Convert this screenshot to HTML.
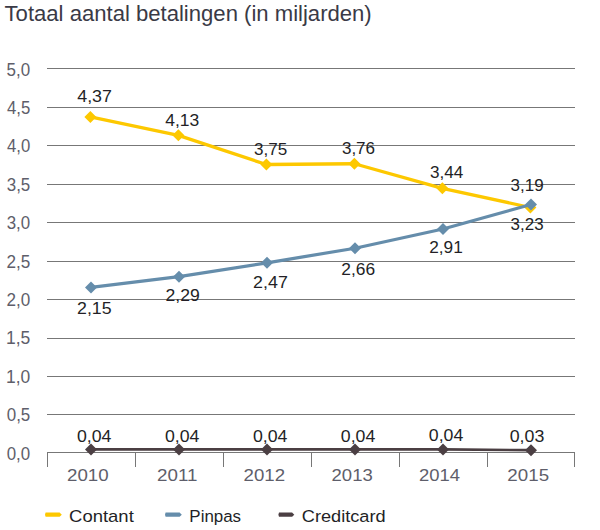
<!DOCTYPE html>
<html><head><meta charset="utf-8"><style>
html,body{margin:0;padding:0;background:#fff;}
body{width:600px;height:530px;overflow:hidden;}
svg{display:block;font-family:"Liberation Sans",sans-serif;}
</style></head><body>
<svg width="600" height="530" viewBox="0 0 600 530">
<rect width="600" height="530" fill="#fff"/>
<rect x="47" y="414" width="528" height="1" fill="#777"/><rect x="47" y="376" width="528" height="1" fill="#777"/><rect x="47" y="338" width="528" height="1" fill="#777"/><rect x="47" y="299" width="528" height="1" fill="#777"/><rect x="47" y="261" width="528" height="1" fill="#777"/><rect x="47" y="222" width="528" height="1" fill="#777"/><rect x="47" y="184" width="528" height="1" fill="#777"/><rect x="47" y="145" width="528" height="1" fill="#777"/><rect x="47" y="107" width="528" height="1" fill="#777"/><rect x="47" y="68" width="528" height="1" fill="#777"/><rect x="47" y="452" width="528" height="1" fill="#777"/><rect x="47" y="452" width="1" height="15" fill="#777"/><rect x="135" y="452" width="1" height="15" fill="#777"/><rect x="223" y="452" width="1" height="15" fill="#777"/><rect x="311" y="452" width="1" height="15" fill="#777"/><rect x="399" y="452" width="1" height="15" fill="#777"/><rect x="487" y="452" width="1" height="15" fill="#777"/><rect x="574" y="452" width="1" height="15" fill="#777"/>
<polyline points="90.4,116.88 178.4,135.32 266.4,164.50 354.4,163.73 442.4,188.31 530.4,207.51" fill="none" stroke="#fdc800" stroke-width="3.3" stroke-linejoin="round"/><path d="M90.4 110.88L96.4 116.88L90.4 122.88L84.4 116.88Z" fill="#fdc800"/><path d="M178.4 129.32L184.4 135.32L178.4 141.32L172.4 135.32Z" fill="#fdc800"/><path d="M266.4 158.50L272.4 164.50L266.4 170.50L260.4 164.50Z" fill="#fdc800"/><path d="M354.4 157.73L360.4 163.73L354.4 169.73L348.4 163.73Z" fill="#fdc800"/><path d="M442.4 182.31L448.4 188.31L442.4 194.31L436.4 188.31Z" fill="#fdc800"/><path d="M530.4 201.51L536.4 207.51L530.4 213.51L524.4 207.51Z" fill="#fdc800"/><polyline points="91.0,287.38 179.0,276.63 267.0,262.80 355.0,248.21 443.0,229.01 531.0,204.44" fill="none" stroke="#658dab" stroke-width="3.2" stroke-linejoin="round"/><path d="M91.0 281.38L97.0 287.38L91.0 293.38L85.0 287.38Z" fill="#658dab"/><path d="M179.0 270.63L185.0 276.63L179.0 282.63L173.0 276.63Z" fill="#658dab"/><path d="M267.0 256.80L273.0 262.80L267.0 268.80L261.0 262.80Z" fill="#658dab"/><path d="M355.0 242.21L361.0 248.21L355.0 254.21L349.0 248.21Z" fill="#658dab"/><path d="M443.0 223.01L449.0 229.01L443.0 235.01L437.0 229.01Z" fill="#658dab"/><path d="M531.0 198.44L537.0 204.44L531.0 210.44L525.0 204.44Z" fill="#658dab"/><polyline points="91,449.43 179,449.43 267,449.43 355,449.43 443,449.43 531,450.20" fill="none" stroke="#4b3f43" stroke-width="2.7" stroke-linejoin="round"/><path d="M91 443.43L97 449.43L91 455.43L85 449.43Z" fill="#4b3f43"/><path d="M179 443.43L185 449.43L179 455.43L173 449.43Z" fill="#4b3f43"/><path d="M267 443.43L273 449.43L267 455.43L261 449.43Z" fill="#4b3f43"/><path d="M355 443.43L361 449.43L355 455.43L349 449.43Z" fill="#4b3f43"/><path d="M443 443.43L449 449.43L443 455.43L437 449.43Z" fill="#4b3f43"/><path d="M531 444.20L537 450.20L531 456.20L525 450.20Z" fill="#4b3f43"/>
<path d="M45.6 512.6L59.599999999999994 512.6L61.8 514.7L59.599999999999994 516.8L45.6 516.8L45 514.7Z" fill="#fdc800"/><path d="M165.6 512.6L179.60000000000002 512.6L181.8 514.7L179.60000000000002 516.8L165.6 516.8L165 514.7Z" fill="#658dab"/><path d="M279.0 512.6L292.1 512.6L294.3 514.7L292.1 516.8L279.0 516.8L278.4 514.7Z" fill="#4b3f43"/>
<text transform="translate(4.56 20.70) scale(0.9913 1)" font-size="22.3" fill="#3a3a46">Totaal aantal betalingen (in miljarden)</text><text transform="translate(6.71 459.60) scale(0.9661 1)" font-size="17.5" fill="#5e5e6a">0,0</text><text transform="translate(6.71 421.20) scale(0.9698 1)" font-size="17.5" fill="#5e5e6a">0,5</text><text transform="translate(5.99 382.80) scale(0.9963 1)" font-size="17.5" fill="#5e5e6a">1,0</text><text transform="translate(5.99 344.40) scale(1.0002 1)" font-size="17.5" fill="#5e5e6a">1,5</text><text transform="translate(6.44 306.00) scale(0.9772 1)" font-size="17.5" fill="#5e5e6a">2,0</text><text transform="translate(6.44 267.60) scale(0.9810 1)" font-size="17.5" fill="#5e5e6a">2,5</text><text transform="translate(6.71 229.20) scale(0.9661 1)" font-size="17.5" fill="#5e5e6a">3,0</text><text transform="translate(6.71 190.80) scale(0.9698 1)" font-size="17.5" fill="#5e5e6a">3,5</text><text transform="translate(6.97 152.40) scale(0.9552 1)" font-size="17.5" fill="#5e5e6a">4,0</text><text transform="translate(6.96 114.00) scale(0.9588 1)" font-size="17.5" fill="#5e5e6a">4,5</text><text transform="translate(6.62 75.60) scale(0.9698 1)" font-size="17.5" fill="#5e5e6a">5,0</text><text transform="translate(67.06 481.00) scale(1.0875 1)" font-size="17.2" fill="#5e5e6a">2010</text><text transform="translate(157.06 481.00) scale(1.0925 1)" font-size="17.2" fill="#5e5e6a">2011</text><text transform="translate(243.57 481.00) scale(1.0844 1)" font-size="17.2" fill="#5e5e6a">2012</text><text transform="translate(331.57 481.00) scale(1.0764 1)" font-size="17.2" fill="#5e5e6a">2013</text><text transform="translate(419.08 481.00) scale(1.0716 1)" font-size="17.2" fill="#5e5e6a">2014</text><text transform="translate(507.36 481.00) scale(1.0901 1)" font-size="17.2" fill="#5e5e6a">2015</text><text transform="translate(77.24 102.40) scale(1.0390 1)" font-size="17.2" fill="#231f26">4,37</text><text transform="translate(165.25 126.00) scale(1.0178 1)" font-size="17.2" fill="#231f26">4,13</text><text transform="translate(253.90 154.50) scale(0.9948 1)" font-size="17.2" fill="#231f26">3,75</text><text transform="translate(341.90 153.50) scale(0.9917 1)" font-size="17.2" fill="#231f26">3,76</text><text transform="translate(429.90 178.10) scale(0.9962 1)" font-size="17.2" fill="#231f26">3,44</text><text transform="translate(510.61 190.80) scale(0.9881 1)" font-size="17.2" fill="#231f26">3,19</text><text transform="translate(77.01 314.00) scale(1.0342 1)" font-size="17.2" fill="#231f26">2,15</text><text transform="translate(165.52 301.40) scale(1.0244 1)" font-size="17.2" fill="#231f26">2,29</text><text transform="translate(253.11 287.60) scale(1.0370 1)" font-size="17.2" fill="#231f26">2,47</text><text transform="translate(341.23 274.75) scale(1.0123 1)" font-size="17.2" fill="#231f26">2,66</text><text transform="translate(429.24 253.00) scale(1.0024 1)" font-size="17.2" fill="#231f26">2,91</text><text transform="translate(510.61 230.40) scale(0.9855 1)" font-size="17.2" fill="#231f26">3,23</text><text transform="translate(76.88 442.00) scale(1.0301 1)" font-size="17.2" fill="#231f26">0,04</text><text transform="translate(164.98 442.00) scale(1.0301 1)" font-size="17.2" fill="#231f26">0,04</text><text transform="translate(252.98 442.00) scale(1.0301 1)" font-size="17.2" fill="#231f26">0,04</text><text transform="translate(340.78 442.00) scale(1.0301 1)" font-size="17.2" fill="#231f26">0,04</text><text transform="translate(428.78 440.80) scale(1.0301 1)" font-size="17.2" fill="#231f26">0,04</text><text transform="translate(509.63 442.00) scale(1.0368 1)" font-size="17.2" fill="#231f26">0,03</text><text transform="translate(69.08 522.20) scale(1.0744 1)" font-size="17.2" fill="#231f26">Contant</text><text transform="translate(189.35 522.20) scale(0.9839 1)" font-size="17.2" fill="#231f26">Pinpas</text><text transform="translate(301.79 522.20) scale(1.0578 1)" font-size="17.2" fill="#231f26">Creditcard</text>
</svg>
</body></html>
